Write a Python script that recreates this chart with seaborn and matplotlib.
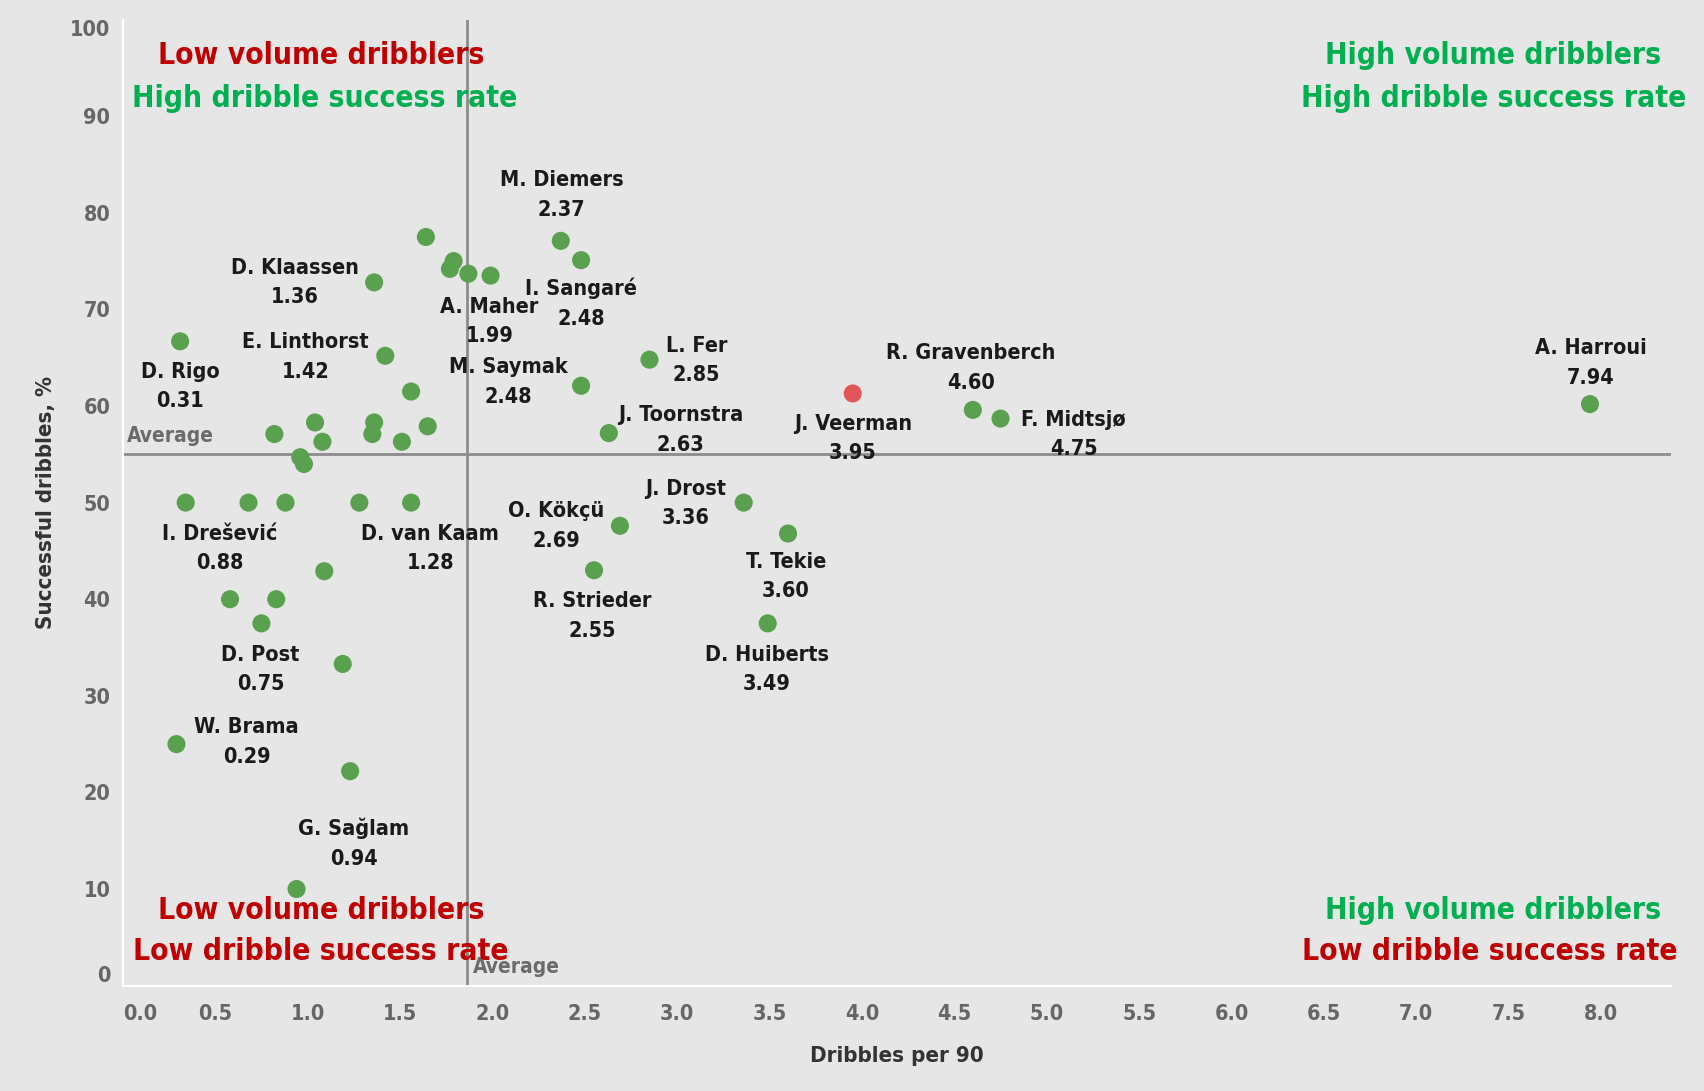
import pandas as pd
import seaborn as sns
import matplotlib.pyplot as plt

# labelled players: name, dribbles per 90, successful dribbles %
players = ["M. Diemers", "I. Sangaré", "A. Maher", "D. Klaassen", "D. Rigo",
           "E. Linthorst", "L. Fer", "M. Saymak", "J. Veerman", "R. Gravenberch",
           "F. Midtsjø", "A. Harroui", "J. Toornstra", "I. Drešević", "D. van Kaam",
           "J. Drost", "O. Kökçü", "T. Tekie", "R. Strieder", "D. Post",
           "D. Huiberts", "W. Brama", "G. Sağlam"]
dribbles = [2.37, 2.48, 1.99, 1.36, 0.31,
            1.42, 2.85, 2.48, 3.95, 4.60,
            4.75, 7.94, 2.63, 0.88, 1.28,
            3.36, 2.69, 3.60, 2.55, 0.75,
            3.49, 0.29, 0.94]
success = [77.1, 75.1, 73.5, 72.8, 66.7,
           65.2, 64.8, 62.1, 61.3, 59.6,
           58.7, 60.2, 57.2, 50.0, 50.0,
           50.0, 47.6, 46.8, 43.0, 37.5,
           37.5, 25.0, 10.0]

# players without a label
other_dribbles = [1.64, 1.79, 1.77, 1.87, 1.56, 1.04, 1.36, 1.65, 0.82, 1.35, 1.08,
                  1.51, 0.96, 0.98, 0.34, 0.68, 1.56, 1.09, 0.58, 0.83, 1.19, 1.23]
other_success = [77.5, 75.0, 74.2, 73.7, 61.5, 58.3, 58.3, 57.9, 57.1, 57.1, 56.3,
                 56.3, 54.7, 54.0, 50.0, 50.0, 50.0, 42.9, 40.0, 40.0, 33.3, 22.2]

highlight = "J. Veerman"
avg_dribbles = 1.865
avg_success = 55.0

x_ticks = [0.0, 0.5, 1.0, 1.5, 2.0, 2.5, 3.0, 3.5, 4.0, 4.5, 5.0, 5.5, 6.0, 6.5, 7.0, 7.5, 8.0]
y_ticks = [0, 10, 20, 30, 40, 50, 60, 70, 80, 90, 100]

# label placement (offset in pixels from the dot)
label_offsets = {
    "M. Diemers": (1, 46), "I. Sangaré": (0, -43), "A. Maher": (-1, -46),
    "D. Klaassen": (-79, 0), "D. Rigo": (0, -45), "E. Linthorst": (-80, -1),
    "L. Fer": (47, -1), "M. Saymak": (-73, 4), "J. Veerman": (0, -45),
    "R. Gravenberch": (-2, 42), "F. Midtsjø": (73, -16), "A. Harroui": (1, 41),
    "J. Toornstra": (72, 3), "I. Drešević": (-66, -46), "D. van Kaam": (71, -46),
    "J. Drost": (-58, -1), "O. Kökçü": (-64, 0), "T. Tekie": (-2, -43),
    "R. Strieder": (-2, -46), "D. Post": (-1, -46), "D. Huiberts": (-1, -46),
    "W. Brama": (70, 2), "G. Sağlam": (57, 46),
}

df = pd.DataFrame({
    "player": players + [""] * len(other_dribbles),
    "dribbles": dribbles + other_dribbles,
    "success": success + other_success,
})
df["group"] = ["highlight" if p == highlight else "other" for p in df["player"]]

sns.set_theme(style="white")
plt.rcParams["font.family"] = ["DejaVu Sans"]
plt.rcParams["font.stretch"] = "condensed"
bg = "#E6E6E6"

fig = plt.figure(figsize=(17.04, 10.91), dpi=100, facecolor=bg)
ax = fig.add_axes([0.0721, 0.0966, 0.9087, 0.8854])
ax.set_facecolor(bg)

sns.scatterplot(data=df, x="dribbles", y="success", hue="group",
                palette={"other": "#59A14F", "highlight": "#E15759"},
                s=170, linewidth=0, legend=False, ax=ax, zorder=3)

ax.axvline(avg_dribbles, color="#8C8C8C", lw=2, zorder=1)
ax.axhline(avg_success, color="#8C8C8C", lw=2, zorder=1)
ax.annotate("Average", (0, avg_success), xytext=(4, 8), textcoords="offset pixels",
            fontsize=15, color="#6B6B6B", fontweight="bold", va="bottom", ha="left")
ax.annotate("Average", (avg_dribbles, 0), xytext=(5, 9), textcoords="offset pixels",
            fontsize=15, color="#6B6B6B", fontweight="bold", va="bottom", ha="left")

for name, x, y in zip(players, dribbles, success):
    dx, dy = label_offsets[name]
    ax.annotate(f"{name}\n{x:.2f}", (x, y), xytext=(dx, dy), textcoords="offset pixels",
                ha="center", va="center", fontsize=15.5, fontweight="bold",
                color="#1A1A1A", linespacing=1.6, zorder=4)

red, green = "#C00000", "#00B050"
quadrants = [
    (0.128, 0.963, "Low volume dribblers", red),
    (0.130, 0.918, "High dribble success rate", green),
    (0.885, 0.963, "High volume dribblers", green),
    (0.885, 0.918, "High dribble success rate", green),
    (0.128, 0.078, "Low volume dribblers", red),
    (0.128, 0.035, "Low dribble success rate", red),
    (0.885, 0.078, "High volume dribblers", green),
    (0.883, 0.035, "Low dribble success rate", red),
]
for qx, qy, txt, col in quadrants:
    ax.text(qx, qy, txt, transform=ax.transAxes, ha="center", va="center",
            fontsize=21.5, fontweight="bold", color=col, zorder=5)

ax.set_xlim(0, 8.38)
ax.set_ylim(0, 100)
ax.set_xticks(x_ticks)
ax.set_yticks(y_ticks)
ax.set_xticklabels([f"{t:.1f}" for t in x_ticks])
ax.set_yticklabels([str(t) for t in y_ticks])
for lab in ax.get_xticklabels() + ax.get_yticklabels():
    lab.set_fontweight("bold")
ax.get_xticklabels()[0].set_horizontalalignment("left")
ax.get_yticklabels()[0].set_verticalalignment("bottom")
ax.get_yticklabels()[-1].set_verticalalignment("top")
ax.tick_params(axis="both", colors="white", labelcolor="#666666", labelsize=15.5,
               length=4, width=1.5, direction="out")
ax.tick_params(axis="x", pad=9)
ax.tick_params(axis="y", pad=5)

for side in ["top", "right"]:
    ax.spines[side].set_visible(False)
for side in ["left", "bottom"]:
    ax.spines[side].set_color("white")
    ax.spines[side].set_linewidth(1.5)

ax.set_xlabel("Dribbles per 90", fontsize=16, fontweight="bold", color="#333333", labelpad=16)
ax.set_ylabel("Successful dribbles, %", fontsize=16, fontweight="bold", color="#333333", labelpad=10)

fig.savefig("out.png", dpi=100, facecolor=bg)
